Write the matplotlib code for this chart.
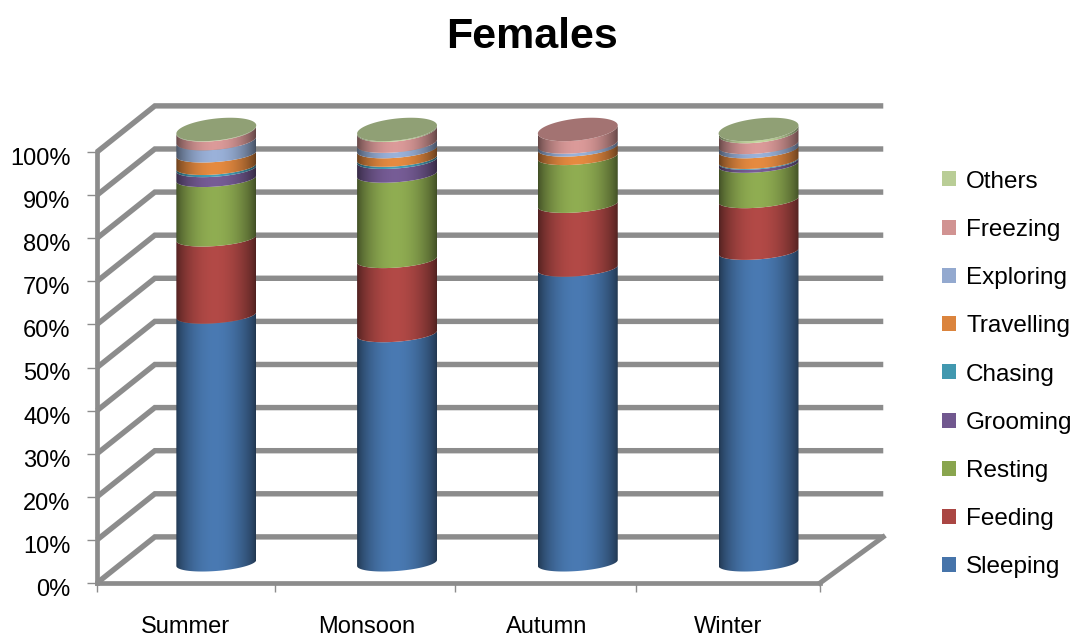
import numpy as np
import matplotlib
matplotlib.use("Agg")
import matplotlib.pyplot as plt
from matplotlib.colors import to_rgb
from matplotlib.patches import Patch, Polygon
from matplotlib.transforms import ScaledTranslation

plt.rcParams['font.family'] = ['Liberation Sans', 'DejaVu Sans']

seasons = ["Summer", "Monsoon", "Autumn", "Winter"]
behaviours = ["Sleeping", "Feeding", "Resting", "Grooming", "Chasing",
              "Travelling", "Exploring", "Freezing", "Others"]

sleeping = [57.5, 53.2, 68.4, 72.3]
feeding = [17.9, 17.2, 14.8, 12.0]
resting = [13.8, 19.8, 11.1, 8.2]
grooming = [2.3, 3.2, 0.0, 0.7]
chasing = [0.5, 0.5, 0.0, 0.2]
travelling = [2.9, 2.0, 2.0, 2.5]
exploring = [2.9, 1.3, 0.7, 1.0]
freezing = [2.1, 2.6, 3.0, 2.6]
others = [0.1, 0.2, 0.0, 0.5]

series = [sleeping, feeding, resting, grooming, chasing,
          travelling, exploring, freezing, others]
colors = ["#4674aa", "#aa4643", "#89a54e", "#71588f", "#4198af",
          "#db843d", "#93a9cf", "#d19392", "#b9cd96"]
ticks = list(range(0, 101, 10))

GRAY = "#8c8c8c"
# depth of the fake 3d box, in axis units
DX, DY = 0.32, 10.7
RX = 0.221
# ring shape on the side of a cylinder: drop, half height, tilt
SIDE = (0.70, 1.86, 0.70)
# shape of the open top of the cylinder
TOP = (0.12, 2.55, 0.95)

fig = plt.figure(figsize=(10.75, 6.37), dpi=100)
ax = fig.add_axes([97 / 1075, 54 / 637, 723 / 1075, 431 / 637])


def ring_xy(cx, value, t):
    # rings open up towards the top of the stack
    f = np.clip((value - 95) / 5, 0, 1)
    drop, ry, tilt = [a + (b - a) * f for a, b in zip(SIDE, TOP)]
    x = cx + RX * np.cos(t)
    y = value + DY / 2 - drop + ry * np.sin(t) + tilt * np.cos(t)
    return x, y


def shaded(color):
    # dark at both edges of the cylinder, lightest around the middle
    u = np.linspace(0, 1, 80)
    k = 0.48 + 0.57 * np.sin(np.pi * u ** 0.95) ** 0.75
    rgb = np.outer(k, to_rgb(color)).clip(0, 1)
    return rgb[np.newaxis, :, :]


# back wall lines and side wall diagonals
for v in ticks:
    ax.plot([0, DX, 4 + DX + 0.03], [v, v + DY, v + DY], color=GRAY, lw=3.9,
            clip_on=False, solid_joinstyle="miter", solid_capstyle="butt", zorder=1)
ax.plot([4, 4 + DX + 0.03], [0, DY], color=GRAY, lw=3.6, clip_on=False, zorder=1)

front = np.linspace(np.pi, 2 * np.pi, 60)
whole = np.linspace(0, 2 * np.pi, 120)

for i in range(len(seasons)):
    cx = i + 0.5 + DX / 2
    base = 0.0
    top_color = colors[0]
    for vals, col in zip(series, colors):
        v = vals[i]
        if v <= 0:
            continue
        top_color = col
        x0, y0 = ring_xy(cx, base, front)
        x1, y1 = ring_xy(cx, base + v, front)
        pts = np.vstack([np.column_stack([x1, y1]),
                         np.column_stack([x0, y0])[::-1]])
        outline = Polygon(pts, closed=True, transform=ax.transData)
        im = ax.imshow(shaded(col), extent=[cx - RX, cx + RX, base, base + v + DY],
                       aspect="auto", interpolation="bilinear", zorder=3)
        im.set_clip_path(outline)
        im.set_clip_box(fig.bbox)
        base += v
    # cap on the top of the stack
    xc, yc = ring_xy(cx, base, whole)
    cap = np.array(to_rgb(top_color)) * 0.78
    ax.fill(xc, yc, color=cap, lw=0, clip_on=False, zorder=4)

ax.set_xlim(0, 4)
ax.set_ylim(0, 100)

for side in ["top", "right"]:
    ax.spines[side].set_visible(False)
for side in ["left", "bottom"]:
    ax.spines[side].set_color(GRAY)
    ax.spines[side].set_linewidth(3.4)

ax.set_yticks(ticks)
ax.set_yticklabels([f"{v}%" for v in ticks], fontsize=17)
ax.set_xticks([0, 0.985, 1.98, 2.98, 4])
ax.set_xticklabels([])
ax.set_xticks([i + 0.49 for i in range(4)], minor=True)
ax.set_xticklabels(seasons, minor=True, fontsize=17)
ax.tick_params(axis="x", which="major", length=6.5, width=1, color=GRAY)
ax.tick_params(axis="x", which="minor", length=0, pad=24)
ax.tick_params(axis="y", length=7, width=1, color=GRAY, pad=12)
# value labels sit a little under their tick
shift = ScaledTranslation(0, -4.5 / 100, fig.dpi_scale_trans)
for lab in ax.get_yticklabels():
    lab.set_transform(lab.get_transform() + shift)

fig.text(532 / 1075, 1 - 37.5 / 637, "Females", fontsize=31, fontweight="bold",
         ha="center", va="center")

handles = [Patch(facecolor=c, label=b) for c, b in zip(colors, behaviours)][::-1]
fig.legend(handles=handles, loc="center left", frameon=False, fontsize=17.5,
           bbox_to_anchor=(942 / 1075, 1 - 374.5 / 637), handlelength=0.58,
           handleheight=0.58, handletextpad=0.41, labelspacing=1.08,
           borderpad=0, borderaxespad=0)

fig.savefig("out.png", dpi=100)
